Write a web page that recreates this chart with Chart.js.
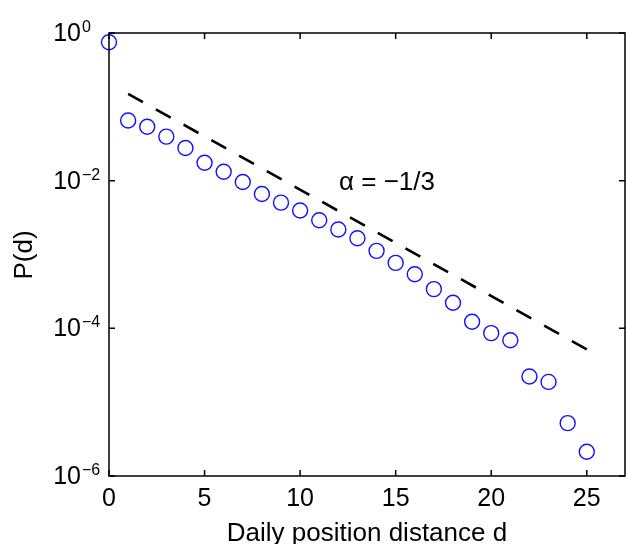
<!DOCTYPE html>
<html>
<head>
<meta charset="utf-8">
<script src="https://cdn.jsdelivr.net/npm/chart.js@4.4.1/dist/chart.umd.min.js"></script>
<style>
  html, body { margin: 0; padding: 0; background: #fff; }
</style>
</head>
<body>
<canvas id="myChart" width="626" height="544"></canvas>
<script>
// data
const distances = [0, 1, 2, 3, 4, 5, 6, 7, 8, 9, 10, 11, 12, 13, 14, 15, 16, 17, 18, 19, 20, 21, 22, 23, 24, 25];
const probabilities = [0.75, 0.0653, 0.0537, 0.0395, 0.0277, 0.0175, 0.0132, 0.0096, 0.0066, 0.00504,
    0.00394, 0.00291, 0.00218, 0.00166, 0.00112, 0.00077, 0.00054, 0.00034, 0.000222, 0.000123,
    0.000086, 0.000069, 0.0000223, 0.0000188, 0.0000052, 0.00000213];
const fitX = [1, 25];
const fitY = [0.15, 0.000052];
const xTicks = [0, 5, 10, 15, 20, 25];
const yTicks = [1, 1e-2, 1e-4, 1e-6];
const yTickExps = ['0', '\u22122', '\u22124', '\u22126'];

const FONT = '"Liberation Sans", Arial, Helvetica, sans-serif';

const points = distances.map((d, i) => ({ x: d, y: probabilities[i] }));
const fitLine = fitX.map((d, i) => ({ x: d, y: fitY[i] }));

// MATLAB-like box, inward ticks and labels
const axesPlugin = {
    id: 'matlabAxes',
    afterDraw(chart) {
        const ctx = chart.ctx;
        const area = chart.chartArea;
        const xs = chart.scales.x;
        const ys = chart.scales.y;
        const tick = 6;

        ctx.save();
        ctx.strokeStyle = '#000';
        ctx.lineWidth = 1.5;
        ctx.strokeRect(area.left, area.top, area.right - area.left, area.bottom - area.top);

        ctx.beginPath();
        xTicks.forEach(v => {
            const px = xs.getPixelForValue(v);
            ctx.moveTo(px, area.bottom);
            ctx.lineTo(px, area.bottom - tick);
            ctx.moveTo(px, area.top);
            ctx.lineTo(px, area.top + tick);
        });
        yTicks.forEach(v => {
            const py = ys.getPixelForValue(v);
            ctx.moveTo(area.left, py);
            ctx.lineTo(area.left + tick, py);
            ctx.moveTo(area.right, py);
            ctx.lineTo(area.right - tick, py);
        });
        ctx.stroke();

        ctx.fillStyle = '#000';
        // x tick labels
        ctx.font = '25px ' + FONT;
        ctx.textAlign = 'center';
        ctx.textBaseline = 'middle';
        xTicks.forEach(v => {
            ctx.fillText(String(v), xs.getPixelForValue(v), area.bottom + 23);
        });

        // y tick labels: 10 with superscript exponent
        yTicks.forEach((v, i) => {
            const py = ys.getPixelForValue(v);
            ctx.font = '25px ' + FONT;
            ctx.textAlign = 'right';
            ctx.textBaseline = 'middle';
            ctx.fillText('10', area.left - 28, py + 1);
            ctx.font = '16px ' + FONT;
            ctx.textAlign = 'left';
            ctx.textBaseline = 'alphabetic';
            ctx.fillText(yTickExps[i], area.left - 27, py - 1);
        });

        // axis titles
        ctx.font = '26px ' + FONT;
        ctx.textAlign = 'center';
        ctx.textBaseline = 'alphabetic';
        ctx.fillText('Daily position distance d', (area.left + area.right) / 2, 541);

        ctx.save();
        ctx.translate(32, 255);
        ctx.rotate(-Math.PI / 2);
        ctx.fillText('P(d)', 0, 0);
        ctx.restore();

        // annotation
        ctx.font = '26px ' + FONT;
        ctx.textAlign = 'left';
        ctx.textBaseline = 'alphabetic';
        ctx.fillText('\u03b1 = \u22121/3', 339, 190);

        ctx.restore();
    }
};

const ctx = document.getElementById('myChart');

const chart = new Chart(ctx, {
    type: 'scatter',
    data: {
        datasets: [{
            label: 'P(d)',
            data: points,
            showLine: false,
            pointStyle: 'circle',
            pointRadius: 7.5,
            pointBorderWidth: 1.4,
            pointBorderColor: '#1010ff',
            pointBackgroundColor: 'rgba(0,0,0,0)',
            clip: false
        }, {
            label: 'fit',
            data: fitLine,
            showLine: true,
            borderColor: '#000',
            borderWidth: 2.6,
            borderDash: [17, 14.75],
            pointRadius: 0,
            fill: false
        }]
    },
    options: {
        responsive: false,
        animation: false,
        devicePixelRatio: 1,
        layout: {
            autoPadding: false,
            padding: { left: 109, top: 33, right: 1, bottom: 68 }
        },
        plugins: {
            legend: { display: false },
            tooltip: { enabled: false }
        },
        scales: {
            x: {
                type: 'linear',
                display: false,
                min: 0,
                max: 27
            },
            y: {
                type: 'logarithmic',
                display: false,
                min: 1e-6,
                max: 1
            }
        }
    },
    plugins: [axesPlugin]
});
</script>
</body>
</html>
